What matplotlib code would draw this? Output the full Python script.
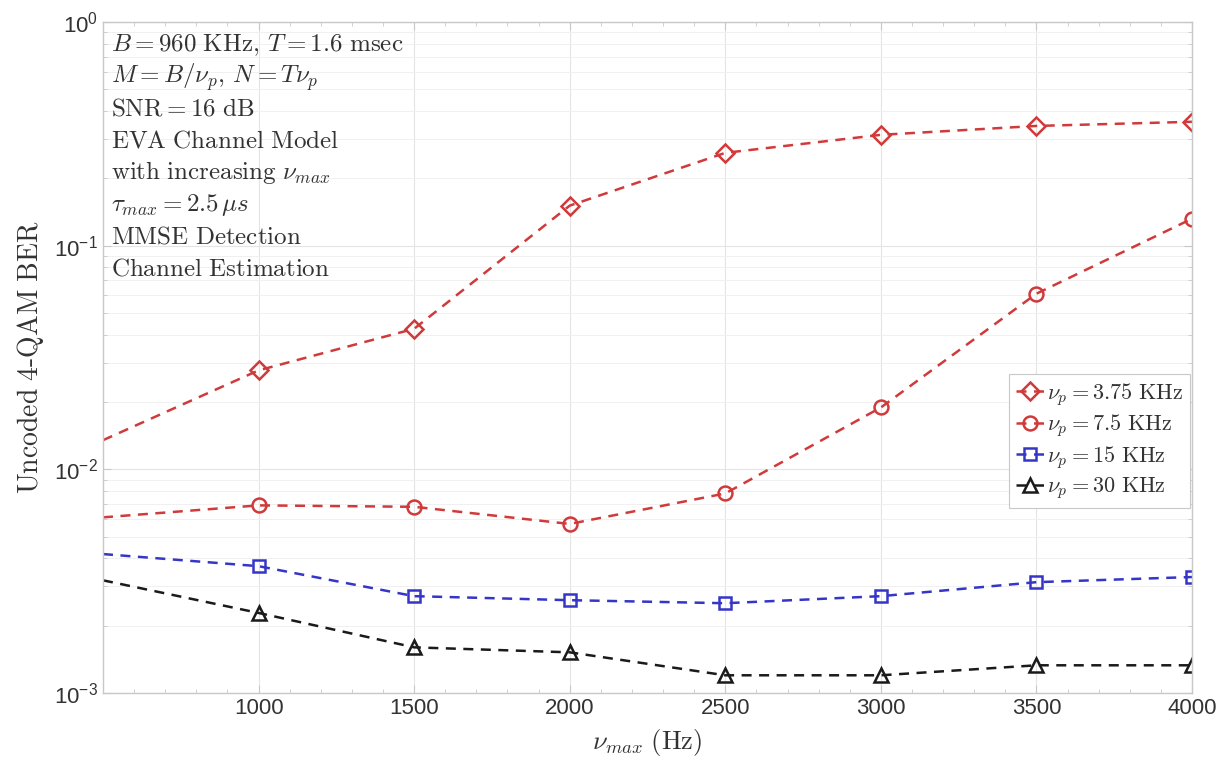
import numpy as np
import matplotlib
matplotlib.use("Agg")
import matplotlib.pyplot as plt
from matplotlib.ticker import LogLocator, MultipleLocator, NullFormatter

plt.rcParams['mathtext.fontset'] = 'cm'

x = [500, 1000, 1500, 2000, 2500, 3000, 3500, 4000]
ber_375 = [0.0135, 0.0277, 0.0425, 0.151, 0.26, 0.313, 0.343, 0.358]
ber_75 = [0.0061, 0.0069, 0.0068, 0.0057, 0.0078, 0.0189, 0.061, 0.132]
ber_15 = [0.00418, 0.00369, 0.00271, 0.0026, 0.00252, 0.00271, 0.00313, 0.0033]
ber_30 = [0.00319, 0.00228, 0.0016, 0.00152, 0.0012, 0.0012, 0.00133, 0.00133]

labels = [r'$\nu_p = 3.75\ \mathrm{KHz}$', r'$\nu_p = 7.5\ \mathrm{KHz}$',
          r'$\nu_p = 15\ \mathrm{KHz}$', r'$\nu_p = 30\ \mathrm{KHz}$']
series = [ber_375, ber_75, ber_15, ber_30]
markers = ['D', 'o', 's', '^']
msizes = [9, 10, 9, 10]
colors = ['#d03a3a', '#d03a3a', '#3535c8', '#1a1a1a']

fig = plt.figure(figsize=(12.2, 7.72), dpi=100)
ax = fig.add_axes([103/1220, 1-693/772, (1192-103)/1220, (693-22)/772])

for s, m, ms, c, lab in zip(series, markers, msizes, colors, labels):
    ax.plot(x, s, linestyle='--', dashes=(4, 3), color=c, linewidth=1.8,
            marker=m, markersize=ms, markerfacecolor='none', markeredgewidth=1.8,
            markevery=list(range(1, len(x))), label=lab)

ax.set_yscale('log')
ax.set_xlim(500, 4000)
ax.set_ylim(1e-3, 1)
ax.set_xticks([1000, 1500, 2000, 2500, 3000, 3500, 4000])
ax.xaxis.set_minor_locator(MultipleLocator(100))
ax.yaxis.set_minor_locator(LogLocator(base=10, subs=np.arange(2, 10)))
ax.yaxis.set_minor_formatter(NullFormatter())

ax.grid(True, which='major', color='#e4e4e4', linewidth=0.8)
ax.grid(True, which='minor', axis='y', color='#f0f0f0', linewidth=0.7)
ax.set_axisbelow(True)
for sp in ax.spines.values():
    sp.set_color('#c8c8c8')
    sp.set_linewidth(1.0)
ax.tick_params(which='both', direction='in', colors='#c8c8c8', labelcolor='#333333',
               top=True, right=True)
ax.tick_params(which='major', length=6, labelsize=16)
ax.tick_params(which='minor', length=3)
for lbl in ax.get_xticklabels() + ax.get_yticklabels():
    lbl.set_family('Liberation Sans')

ax.set_xlabel(r'$\nu_{max}\ \mathrm{(Hz)}$', fontsize=19, color='#333333', labelpad=6)
ax.set_ylabel(r'$\mathrm{Uncoded\ 4\text{-}QAM\ BER}$', fontsize=20, color='#333333', labelpad=6)

info = [r'$B = 960\ \mathrm{KHz},\, T = 1.6\ \mathrm{msec}$',
        r'$M = B/\nu_p,\, N = T\nu_p$',
        r'$\mathrm{SNR} = 16\ \mathrm{dB}$',
        r'$\mathrm{EVA\ Channel\ Model}$',
        r'$\mathrm{with\ increasing}\ \nu_{max}$',
        r'$\tau_{max} = 2.5\,\mu s$',
        r'$\mathrm{MMSE\ Detection}$',
        r'$\mathrm{Channel\ Estimation}$']
for i, t in enumerate(info):
    ax.text(0.007, (693 - (45 + 31.9 * i)) / 671, t, transform=ax.transAxes,
            fontsize=18, color='#333333', va='center', ha='left')

leg = ax.legend(loc='upper right', bbox_to_anchor=(0.998, 0.475), borderaxespad=0,
                fontsize=16, handlelength=1.3, handletextpad=0.1, labelspacing=0.2,
                borderpad=0.3, fancybox=False, framealpha=1, edgecolor='#c8c8c8')
leg.get_frame().set_linewidth(0.8)
for t in leg.get_texts():
    t.set_color('#333333')

fig.savefig('out.png', dpi=100)
